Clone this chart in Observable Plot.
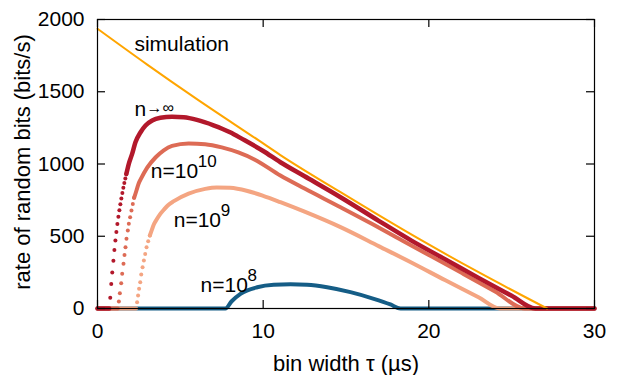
<!DOCTYPE html>
<html><head><meta charset="utf-8">
<script src="https://cdn.jsdelivr.net/npm/d3@7"></script>
<script src="https://cdn.jsdelivr.net/npm/@observablehq/plot@0.6"></script>
<style>
body{margin:0;background:#fff;}
#chart svg{display:block;}
</style></head><body><div id="chart"></div>
<script>
// ---- data ----
const xTicks = [0, 10, 20, 30];
const yTicks = [0, 500, 1000, 1500, 2000];

const simTau  = [0, 3, 6, 9.73, 11.04, 14.67, 19.49, 23, 27.14];
const simRate = [1936, 1688, 1449, 1163, 1062, 805, 476, 251, 0];

// n -> infinity
const infLeadTau = [0, 0.71], infLeadRate = [0, 0];
const infRiseTau  = [0.77,0.83,0.89,0.96,1.02,1.08,1.14,1.20,1.26,1.32,1.38,1.44,1.50,1.56,1.62,1.68,1.74];
const infRiseRate = [74,170,250,330,405,470,530,585,635,680,722,762,800,835,868,900,930];
const infTau  = [1.74,1.89,2.09,2.29,2.6,2.9,3.3,3.8,4.5,5.2,6.0,7.0,8.0,8.73,10,11.04,12.5,14.67,17,18.95,21,23,25,26.43,30];
const infRate = [930,1001,1070,1150,1220,1266,1301,1320,1327,1323,1305,1268,1220,1174,1090,1012,915,770,605,470,340,212,88,0,0];

// n = 10^10
const e10LeadTau = [0, 1.23], e10LeadRate = [0, 0];
const e10RiseTau  = [1.29,1.35,1.43,1.49,1.57,1.63,1.69,1.75,1.83,1.89,1.97,2.05,2.13,2.21];
const e10RiseRate = [48,106,175,240,309,371,424,482,540,586,632,678,724,766];
const e10Tau  = [2.21,2.31,2.4,2.49,2.61,3.0,3.5,4.0,4.5,5.5,6.5,7.5,8.5,9.5,11.04,12.5,14.67,16.5,18.39,20,22,24,25.8,30];
const e10Rate = [766,801,835,867,895,975,1045,1095,1125,1142,1137,1115,1080,1030,920,830,701,590,470,370,245,118,0,0];

// n = 10^9
const e9LeadTau = [0, 2.33], e9LeadRate = [0, 0];
const e9RiseTau  = [2.39,2.45,2.51,2.58,2.64,2.72,2.80,2.88,2.96,3.06,3.16];
const e9RiseRate = [44,90,136,182,235,286,332,378,424,466,505];
const e9Tau  = [3.16,3.28,3.40,3.56,3.76,4.0,4.24,4.61,5.5,6.5,7.2,8.0,9.0,10.0,11.04,12.5,14.67,17,19,21,23,24.3,30];
const e9Rate = [505,544,581,614,650,683,713,743,795,828,838,835,815,780,736,670,563,430,315,195,78,0,0];

// n = 10^8
const e8Tau  = [0,7.72,8.1,8.63,9.64,10.64,11.65,12.65,13.86,15.27,16.68,17.68,18.29,30];
const e8Rate = [0,0,50,101,147,164,167,164,147,113,67,28,0,0];

// labels
const labelText = ["simulation", "n", "n=10", "n=10", "n=10"];
const labelTau  = [2.23, 2.23, 3.22, 4.6, 6.22];
const labelRate = [1781, 1329, 904, 567, 113];
const supText = ["10", "9", "8"];
const xTitle = "bin width τ (µs)";
const yTitle = "rate of random bits (bits/s)";

// ---- styling ----
const W = 622, H = 375;
const M = {l: 97, r: 28, t: 19, b: 67};
const iw = W - M.l - M.r, ih = H - M.t - M.b;
const tk = 8;
const FONT = "'Liberation Sans', Arial, Helvetica, sans-serif";
const FS = 21, FT = 22;
const cSim = "#ffa500", cInf = "#b2182b", c10 = "#dd6b55", c9 = "#f4a582", c8 = "#155d86";
const DR = 2;

const pts = (tau, rate) => tau.map((t, i) => ({tau: t, rate: rate[i]}));

const curves = [
  {color: c8,  w: 4,   lead: [], rise: [], body: pts(e8Tau, e8Rate)},
  {color: c9,  w: 4,   lead: pts(e9LeadTau, e9LeadRate),  rise: pts(e9RiseTau, e9RiseRate),  body: pts(e9Tau, e9Rate)},
  {color: c10, w: 4,   lead: pts(e10LeadTau, e10LeadRate), rise: pts(e10RiseTau, e10RiseRate), body: pts(e10Tau, e10Rate)},
  {color: cInf, w: 4.5, lead: pts(infLeadTau, infLeadRate), rise: pts(infRiseTau, infRiseRate), body: pts(infTau, infRate)}
];

const curveMarks = curves.flatMap(c => [
  Plot.line(c.lead, {x: "tau", y: "rate", stroke: c.color, strokeWidth: c.w}),
  Plot.line(c.body, {x: "tau", y: "rate", stroke: c.color, strokeWidth: c.w, curve: "monotone-x"}),
  Plot.dot(c.rise, {x: "tau", y: "rate", fill: c.color, r: DR})
]);

const labels = labelText.map((t, i) => ({text: t, tau: labelTau[i], rate: labelRate[i]}));
const sups = supText.map((t, i) => ({text: t, tau: labelTau[i + 2], rate: labelRate[i + 2]}));

const chart = Plot.plot({
  width: W, height: H,
  marginLeft: M.l, marginRight: M.r, marginTop: M.t, marginBottom: M.b,
  style: {fontFamily: FONT, fontSize: FS + "px", color: "#000", background: "#fff"},
  x: {domain: [0, 30], ticks: xTicks, tickSize: 0, tickPadding: 15, label: null, tickFormat: d => String(d)},
  y: {domain: [0, 2000], ticks: yTicks, tickSize: 0, tickPadding: 13, label: null, tickFormat: d => String(d)},
  marks: [
    ...curveMarks,
    Plot.line(pts(simTau, simRate), {x: "tau", y: "rate", stroke: cSim, strokeWidth: 2, curve: "monotone-x"}),
    Plot.frame({stroke: "#000", strokeWidth: 1.2}),
    Plot.tickX(xTicks, {x: d => d, insetTop: ih - tk, stroke: "#000", strokeWidth: 1.2}),
    Plot.tickX(xTicks, {x: d => d, insetBottom: ih - tk, stroke: "#000", strokeWidth: 1.2}),
    Plot.tickY(yTicks, {y: d => d, insetRight: iw - tk, stroke: "#000", strokeWidth: 1.2}),
    Plot.tickY(yTicks, {y: d => d, insetLeft: iw - tk, stroke: "#000", strokeWidth: 1.2}),
    Plot.text(labels, {x: "tau", y: "rate", text: "text", textAnchor: "start", lineAnchor: "bottom", fontSize: FS, fill: "#000"}),
    Plot.text(labels.slice(1, 2), {x: "tau", y: "rate", text: () => "→∞", textAnchor: "start", lineAnchor: "bottom", fontSize: 16, dx: 12, dy: -3, fill: "#000"}),
    Plot.text(sups, {x: "tau", y: "rate", text: "text", textAnchor: "start", lineAnchor: "bottom", fontSize: 17, dx: 47, dy: -11, fill: "#000"}),
    Plot.text([xTitle], {text: d => d, frameAnchor: "bottom", textAnchor: "middle", lineAnchor: "bottom", dy: 62, fontSize: FT, fill: "#000"}),
    Plot.text([yTitle], {text: d => d, frameAnchor: "left", textAnchor: "middle", rotate: -90, lineAnchor: "bottom", dx: -68, dy: -2, fontSize: FT, fill: "#000"})
  ]
});
document.getElementById("chart").appendChild(chart);
</script>
</body></html>
